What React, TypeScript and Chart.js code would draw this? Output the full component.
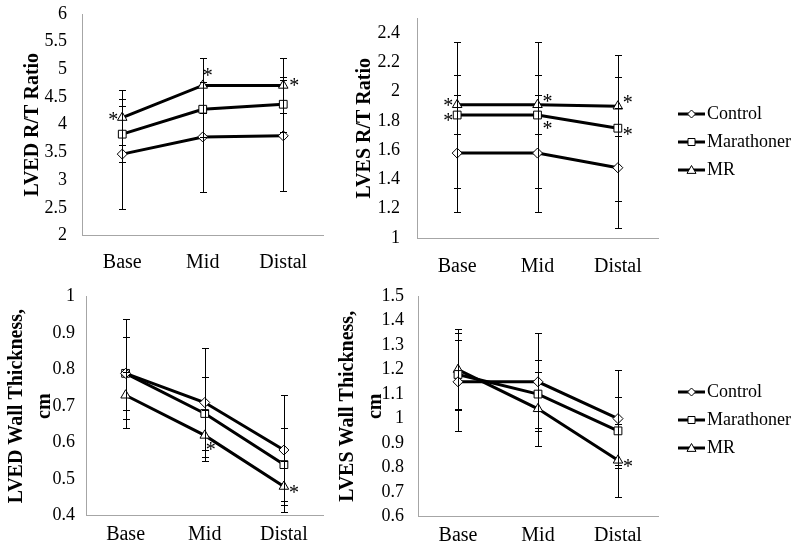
import React, { useEffect, useRef } from 'react';
import { Chart, registerables } from 'chart.js';

Chart.register(...registerables);

const FONT = "'Liberation Serif', 'Times New Roman', serif";

const categories = ['Base', 'Mid', 'Distal'];
const seriesNames = ['Control', 'Marathoner', 'MR'];
const markerStyles = ['diamond', 'square', 'triangle'];

// Panel A: LVED R/T Ratio
const lvedRatioRange = [2, 6];
const lvedRatioTickValues = [2, 2.5, 3, 3.5, 4, 4.5, 5, 5.5, 6];
const lvedRatioControl = [3.47, 3.78, 3.8];
const lvedRatioControlErr = [1.0, 1.0, 1.0];
const lvedRatioMarathoner = [3.83, 4.28, 4.37];
const lvedRatioMarathonerErr = [0.5, 0.5, 0.5];
const lvedRatioMR = [4.13, 4.71, 4.71];
const lvedRatioMRErr = [0.5, 0.5, 0.5];

// Panel B: LVES R/T Ratio
const lvesRatioRange = [1, 2.5];
const lvesRatioTickValues = [1, 1.2, 1.4, 1.6, 1.8, 2, 2.2, 2.4];
const lvesRatioControl = [1.58, 1.58, 1.48];
const lvesRatioControlErr = [0.4, 0.4, 0.41];
const lvesRatioMarathoner = [1.84, 1.84, 1.75];
const lvesRatioMarathonerErr = [0.5, 0.5, 0.5];
const lvesRatioMR = [1.91, 1.91, 1.9];
const lvesRatioMRErr = [0.2, 0.2, 0.2];

// Panel C: LVED Wall Thickness, cm
const lvedWallRange = [0.4, 1];
const lvedWallTickValues = [0.4, 0.5, 0.6, 0.7, 0.8, 0.9, 1];
const lvedWallControl = [0.79, 0.71, 0.58];
const lvedWallControlErr = [0.15, 0.15, 0.15];
const lvedWallMarathoner = [0.79, 0.68, 0.54];
const lvedWallMarathonerErr = [0.1, 0.1, 0.1];
const lvedWallMR = [0.73, 0.62, 0.48];
const lvedWallMRErr = [0.065, 0.07, 0.07];

// Panel D: LVES Wall Thickness, cm
const lvesWallRange = [0.6, 1.5];
const lvesWallTickValues = [0.6, 0.7, 0.8, 0.9, 1, 1.1, 1.2, 1.3, 1.4, 1.5];
const lvesWallControl = [1.15, 1.15, 1.0];
const lvesWallControlErr = [0.2, 0.2, 0.2];
const lvesWallMarathoner = [1.18, 1.1, 0.95];
const lvesWallMarathonerErr = [0.14, 0.14, 0.14];
const lvesWallMR = [1.2, 1.04, 0.83];
const lvesWallMRErr = [0.165, 0.15, 0.15];

// significance markers: [series index, category index, placement]
const lvedRatioStars: [number, number, string][] = [[2, 0, 'left'], [2, 1, 'upRight'], [2, 2, 'rightMid']];
const lvesRatioStars: [number, number, string][] = [
  [2, 0, 'leftUp'], [1, 0, 'leftDown'], [2, 1, 'rightUp'], [1, 1, 'rightDown'], [2, 2, 'rightUp'], [1, 2, 'right'],
];
const lvedWallStars: [number, number, string][] = [[2, 1, 'downRight'], [2, 2, 'right']];
const lvesWallStars: [number, number, string][] = [[2, 2, 'right']];

const STAR_OFFSETS: Record<string, [number, number]> = {
  left: [-9, -1],
  leftUp: [-9, -3],
  leftDown: [-9, 2],
  right: [10, 3],
  rightMid: [11, -3],
  rightUp: [10, -7],
  rightDown: [10, 10],
  upRight: [5, -13],
  downRight: [6, 11],
};

function drawMarker(ctx: CanvasRenderingContext2D, style: string, x: number, y: number) {
  ctx.save();
  ctx.fillStyle = '#fff';
  ctx.strokeStyle = '#000';
  ctx.lineWidth = 1;
  ctx.beginPath();
  if (style === 'diamond') {
    const r = 4;
    ctx.moveTo(x, y - r);
    ctx.lineTo(x + r, y);
    ctx.lineTo(x, y + r);
    ctx.lineTo(x - r, y);
    ctx.closePath();
  } else if (style === 'square') {
    const h = 3.5;
    ctx.rect(x - h, y - h, 2 * h, 2 * h);
  } else {
    const r = 4.5;
    ctx.moveTo(x, y - r);
    ctx.lineTo(x + r, y + r * 0.75);
    ctx.lineTo(x - r, y + r * 0.75);
    ctx.closePath();
  }
  ctx.fill();
  ctx.stroke();
  ctx.restore();
}

type PanelCfg = {
  title: string | string[];
  titleLineHeight: number;
  titlePad: number;
  range: number[];
  tickValues: number[];
  values: number[][];
  errors: number[][];
  stars: [number, number, string][];
  left: number;
  top: number;
  width: number;
  height: number;
  areaLeft: number;
  areaTop: number;
  areaRight: number;
  areaBottom: number;
  yPad: number;
  xPad: number;
  legend?: { x: number; y: number; gap: number };
};

const panels: PanelCfg[] = [
  {
    title: 'LVED R/T Ratio', titleLineHeight: 1.2, titlePad: 21,
    range: lvedRatioRange, tickValues: lvedRatioTickValues,
    values: [lvedRatioControl, lvedRatioMarathoner, lvedRatioMR],
    errors: [lvedRatioControlErr, lvedRatioMarathonerErr, lvedRatioMRErr],
    stars: lvedRatioStars,
    left: 0, top: 0, width: 330, height: 280,
    areaLeft: 82, areaTop: 14, areaRight: 325, areaBottom: 235.5, yPad: 15, xPad: 15,
  },
  {
    title: 'LVES R/T Ratio', titleLineHeight: 1.2, titlePad: 23,
    range: lvesRatioRange, tickValues: lvesRatioTickValues,
    values: [lvesRatioControl, lvesRatioMarathoner, lvesRatioMR],
    errors: [lvesRatioControlErr, lvesRatioMarathonerErr, lvesRatioMRErr],
    stars: lvesRatioStars,
    left: 330, top: 0, width: 470, height: 280,
    areaLeft: 87, areaTop: 18.4, areaRight: 328, areaBottom: 238, yPad: 17, xPad: 17,
    legend: { x: 348, y: 114, gap: 28 },
  },
  {
    title: ['LVED Wall Thickness,', 'cm'], titleLineHeight: 1.4, titlePad: 3,
    ticks: undefined as any,
    range: lvedWallRange, tickValues: lvedWallTickValues,
    values: [lvedWallControl, lvedWallMarathoner, lvedWallMR],
    errors: [lvedWallControlErr, lvedWallMarathonerErr, lvedWallMRErr],
    stars: lvedWallStars,
    left: 0, top: 280, width: 330, height: 276,
    areaLeft: 86, areaTop: 16.7, areaRight: 325, areaBottom: 235.7, yPad: 11, xPad: 7,
  } as any,
  {
    title: ['LVES Wall Thickness,', 'cm'], titleLineHeight: 1.4, titlePad: 4,
    range: lvesWallRange, tickValues: lvesWallTickValues,
    values: [lvesWallControl, lvesWallMarathoner, lvesWallMR],
    errors: [lvesWallControlErr, lvesWallMarathonerErr, lvesWallMRErr],
    stars: lvesWallStars,
    left: 330, top: 280, width: 470, height: 276,
    areaLeft: 88, areaTop: 16, areaRight: 328, areaBottom: 236.7, yPad: 14, xPad: 7,
    legend: { x: 348, y: 112, gap: 28 },
  },
];

function Panel({ cfg }: { cfg: PanelCfg }) {
  const ref = useRef<HTMLCanvasElement>(null);

  useEffect(() => {
    const canvas = ref.current;
    if (!canvas) return;

    const errorBars = {
      id: 'errorBars',
      afterDatasetsDraw(chart: any) {
        const { ctx } = chart;
        const xs = chart.scales.x;
        const ys = chart.scales.y;
        ctx.save();
        ctx.strokeStyle = '#000';
        ctx.lineWidth = 1;
        cfg.values.forEach((vals, k) => {
          vals.forEach((v, i) => {
            const e = cfg.errors[k][i];
            const x = Math.round(xs.getPixelForValue(i)) + 0.5;
            const y1 = Math.round(ys.getPixelForValue(v + e)) + 0.5;
            const y2 = Math.round(ys.getPixelForValue(v - e)) + 0.5;
            ctx.beginPath();
            ctx.moveTo(x, y1);
            ctx.lineTo(x, y2);
            ctx.moveTo(x - 3.5, y1);
            ctx.lineTo(x + 3.5, y1);
            ctx.moveTo(x - 3.5, y2);
            ctx.lineTo(x + 3.5, y2);
            ctx.stroke();
          });
        });
        ctx.restore();
      },
    };

    const stars = {
      id: 'stars',
      afterDatasetsDraw(chart: any) {
        const { ctx } = chart;
        const xs = chart.scales.x;
        const ys = chart.scales.y;
        ctx.save();
        ctx.fillStyle = '#000';
        ctx.font = `20px ${FONT}`;
        ctx.textAlign = 'center';
        ctx.textBaseline = 'middle';
        cfg.stars.forEach(([k, i, place]) => {
          const [dx, dy] = STAR_OFFSETS[place];
          const x = xs.getPixelForValue(i) + dx;
          const y = ys.getPixelForValue(cfg.values[k][i]) + dy;
          ctx.fillText('*', x, y + 4.5);
        });
        ctx.restore();
      },
    };

    const customLegend = {
      id: 'customLegend',
      afterDraw(chart: any) {
        if (!cfg.legend) return;
        const { ctx } = chart;
        const { x, y, gap } = cfg.legend;
        ctx.save();
        seriesNames.forEach((name, k) => {
          const yy = y + k * gap;
          ctx.strokeStyle = '#000';
          ctx.lineWidth = 3;
          ctx.beginPath();
          ctx.moveTo(x, yy);
          ctx.lineTo(x + 27, yy);
          ctx.stroke();
          drawMarker(ctx, markerStyles[k], x + 13.5, yy);
          ctx.fillStyle = '#000';
          ctx.font = `18px ${FONT}`;
          ctx.textAlign = 'left';
          ctx.textBaseline = 'middle';
          ctx.fillText(name, x + 29, yy);
        });
        ctx.restore();
      },
    };

    const pointStyles = ['rectRot', 'rect', 'triangle'];
    const pointRadii = [5, 5.5, 5.5];

    const chart = new Chart(canvas, {
      type: 'line',
      data: {
        labels: categories,
        datasets: cfg.values.map((vals, k) => ({
          label: seriesNames[k],
          data: vals,
          borderColor: '#000',
          borderWidth: 3,
          backgroundColor: '#fff',
          pointStyle: pointStyles[k] as any,
          pointRadius: pointRadii[k],
          pointBorderWidth: 1,
          pointBorderColor: '#000',
          pointBackgroundColor: '#fff',
          tension: 0,
          fill: false,
        })),
      },
      options: {
        responsive: false,
        animation: false,
        events: [],
        layout: {
          padding: {
            left: 0,
            top: cfg.areaTop,
            right: cfg.width - cfg.areaRight,
            bottom: 0,
          },
        },
        plugins: {
          legend: { display: false },
          tooltip: { enabled: false },
        },
        scales: {
          x: {
            type: 'category',
            offset: true,
            grid: { display: false, drawTicks: false },
            border: { display: true, color: '#a6a6a6', width: 1 },
            ticks: { color: '#000', font: { family: FONT, size: 20 }, padding: cfg.xPad, maxRotation: 0, autoSkip: false },
            afterFit: (s: any) => {
              s.height = cfg.height - cfg.areaBottom;
              s.paddingLeft = 0;
              s.paddingRight = 0;
            },
          },
          y: {
            type: 'linear',
            min: cfg.range[0],
            max: cfg.range[1],
            grid: { display: false, drawTicks: false },
            border: { display: true, color: '#a6a6a6', width: 1 },
            afterBuildTicks: (s: any) => {
              s.ticks = cfg.tickValues.map((v) => ({ value: v }));
            },
            ticks: {
              autoSkip: false,
              color: '#000',
              font: { family: FONT, size: 18 },
              padding: cfg.yPad,
              callback: (v: any) => String(Math.round(Number(v) * 10) / 10),
            },
            title: {
              display: true,
              text: cfg.title as any,
              color: '#000',
              font: { family: FONT, size: 20, weight: 'bold', lineHeight: cfg.titleLineHeight },
              padding: { top: cfg.titlePad, bottom: 0 },
            },
            afterFit: (s: any) => {
              s.width = cfg.areaLeft;
              s.paddingTop = 0;
              s.paddingBottom = 0;
            },
          },
        },
      } as any,
      plugins: [errorBars, stars, customLegend],
    });

    return () => chart.destroy();
  }, [cfg]);

  return (
    <div style={{ position: 'absolute', left: cfg.left, top: cfg.top, width: cfg.width, height: cfg.height }}>
      <canvas ref={ref} width={cfg.width} height={cfg.height} style={{ width: cfg.width, height: cfg.height, display: 'block' }} />
    </div>
  );
}

export default function App() {
  return (
    <div style={{ position: 'absolute', left: 0, top: 0, width: 800, height: 556, background: '#fff', overflow: 'hidden' }}>
      {panels.map((p, i) => (
        <Panel key={i} cfg={p} />
      ))}
    </div>
  );
}
